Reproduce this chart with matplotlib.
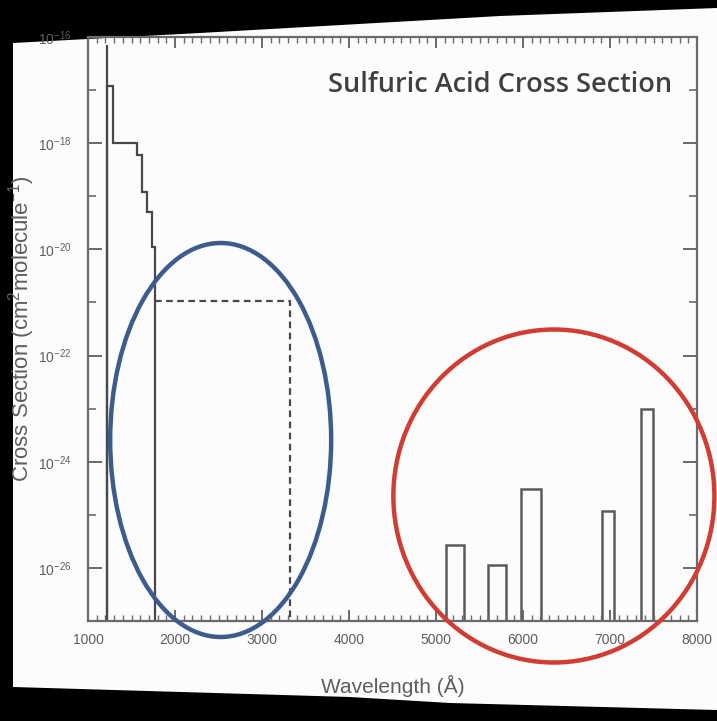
import matplotlib
matplotlib.use("Agg")
import matplotlib.pyplot as plt
import numpy as np
from matplotlib.patches import Ellipse, Polygon
from matplotlib.ticker import FixedLocator, MultipleLocator, NullFormatter
from matplotlib.transforms import blended_transform_factory

plt.rcParams["mathtext.fontset"] = "custom"
plt.rcParams["mathtext.rm"] = "Liberation Sans"
plt.rcParams["mathtext.it"] = "Liberation Sans:italic"

# UV part: Lyman-alpha spike plus step function
spike_wl = 1216
spike_top = 7e-17
uv_edges = [1216, 1290, 1560, 1625, 1675, 1740, 1775]
uv_values = [1.2e-17, 1.0e-18, 6e-19, 1.2e-19, 5e-20, 1.1e-20]

# dashed extrapolation box
dash_wl = [1775, 3320, 3320]
dash_val = [1.05e-21, 1.05e-21, 1e-27]

# visible bands (left edge, right edge, cross section)
band_left = [5120, 5600, 5980, 6910, 7360]
band_right = [5320, 5810, 6210, 7045, 7495]
band_value = [2.7e-26, 1.15e-26, 3.0e-25, 1.2e-25, 1.0e-23]

ymin, ymax = 1e-27, 1e-16
xmin, xmax = 1000, 8000
y_major = [1e-26, 1e-24, 1e-22, 1e-20, 1e-18, 1e-16]
y_minor = [1e-25, 1e-23, 1e-21, 1e-19, 1e-17]
y_labels = [r"$10^{-26}$", r"$10^{-24}$", r"$10^{-22}$", r"$10^{-20}$", r"$10^{-18}$", r"$10^{-16}$"]
x_major = [1000, 2000, 3000, 4000, 5000, 6000, 7000, 8000]

W, H = 717, 721
fig = plt.figure(figsize=(W / 100, H / 100), dpi=100, facecolor="black")

def fx(x):
    return x / W

def fy(y):
    return 1 - y / H

# white slide area of the photo
slide = [(13, 43), (200, 33), (500, 16), (717, 8), (717, 710), (450, 703), (350, 697), (13, 687)]
fig.add_artist(Polygon([(fx(a), fy(b)) for a, b in slide], closed=True,
                       transform=fig.transFigure, facecolor="#fbfcfb", edgecolor="none", zorder=0))

ax = fig.add_axes([fx(88), fy(621), fx(697) - fx(88), fy(37) - fy(621)])
ax.set_facecolor("none")
frame_col = "#6a6a6a"
line_col = "#484848"
text_col = "#5e5e5e"

ax.set_yscale("log")
ax.set_xlim(xmin, xmax)
ax.set_ylim(ymin, ymax)

ax.vlines(spike_wl, ymin, spike_top, color=line_col, lw=1.6)
ax.stairs(uv_values, uv_edges, baseline=ymin, color=line_col, lw=1.6)
ax.plot(dash_wl, dash_val, color=line_col, lw=1.6, ls=(0, (3, 2)))

widths = np.array(band_right) - np.array(band_left)
ax.bar(band_left, np.array(band_value) - ymin, width=widths, bottom=ymin, align="edge",
       fill=False, edgecolor="#5a5a5a", lw=1.8)

for s in ax.spines.values():
    s.set_color(frame_col)
    s.set_linewidth(1.6)

ax.yaxis.set_major_locator(FixedLocator(y_major))
ax.set_yticklabels(y_labels)
ax.yaxis.set_minor_locator(FixedLocator(y_minor))
ax.yaxis.set_minor_formatter(NullFormatter())
ax.xaxis.set_major_locator(FixedLocator(x_major))
ax.xaxis.set_minor_locator(MultipleLocator(100))
ax.tick_params(which="both", direction="in", top=True, right=True, colors=frame_col,
               labelcolor=text_col, labelsize=10)
ax.tick_params(axis="y", which="major", length=10, width=1.4, labelsize=10, pad=12)
ax.tick_params(axis="y", which="minor", length=6, width=1.2)
ax.tick_params(axis="x", which="major", length=8, width=1.4, pad=9)
ax.tick_params(axis="x", which="minor", length=4, width=1.0)
for lab in ax.get_xticklabels():
    lab.set_family("Liberation Sans")

ax.set_xlabel("Wavelength (Å)", fontsize=15, color=text_col, family="Liberation Sans", labelpad=20)
ax.set_ylabel("Cross Section (cm$^2$molecule$^{-1}$)", fontsize=16, color=text_col,
              family="Liberation Sans")
ax.yaxis.set_label_coords(-0.084, 0.5)
ax.text(0.959, 0.918, "Sulfuric Acid Cross Section", transform=ax.transAxes, ha="right", va="center",
        fontsize=19.5, color="#404040", family="Open Sans", fontweight="semibold")

# hand drawn annotation circles, x in wavelength, y in figure fraction
tr = blended_transform_factory(ax.transData, fig.transFigure)
fig.add_artist(Ellipse((2525, fy(440)), 2540, 394 / H, transform=tr,
                       fill=False, edgecolor="#3d5c8e", lw=3.2, zorder=5))
fig.add_artist(Ellipse((6355, fy(496)), 3690, 333 / H, transform=tr,
                       fill=False, edgecolor="#d23d33", lw=3.2, zorder=5))

fig.savefig("out.png", dpi=100, facecolor="black")
